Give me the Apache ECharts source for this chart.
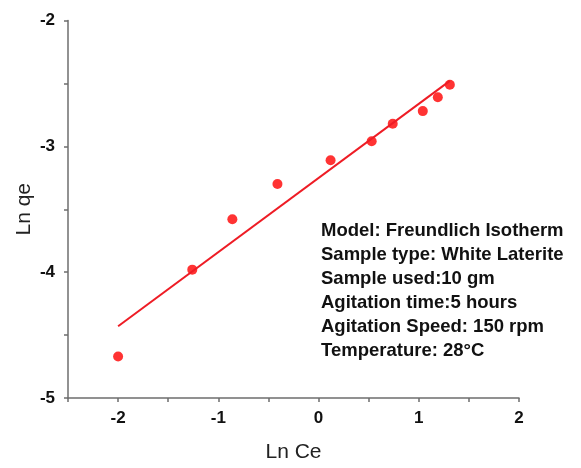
<!DOCTYPE html>
<html>
<head>
<meta charset="utf-8">
<script src="https://cdn.jsdelivr.net/npm/echarts@6/dist/echarts.min.js"></script>
<style>html,body{margin:0;padding:0;background:#fff;}#c{width:581px;height:468px;}</style>
</head>
<body>
<div id="c"></div>
<script>
const lnCe = [-2.00, -1.26, -0.86, -0.41, 0.12, 0.53, 0.74, 1.04, 1.19, 1.31];
const lnQe = [-4.67, -3.98, -3.58, -3.30, -3.11, -2.96, -2.82, -2.72, -2.61, -2.51];
const fitX = [-2.00, 1.31];
const fitY = [-4.43, -2.48];
const xTicks = [-2, -1, 0, 1, 2];
const yTicks = [-5, -4, -3, -2];
const infoLines = [
  'Model: Freundlich Isotherm',
  'Sample type: White Laterite',
  'Sample used:10 gm',
  'Agitation time:5 hours',
  'Agitation Speed: 150 rpm',
  'Temperature: 28\u00B0C'
];

const chart = echarts.init(document.getElementById('c'), null, {renderer: 'canvas'});
const axisCol = '#6e6e6e';
const font = 'Arial, "Liberation Sans", sans-serif';
chart.setOption({
  animation: false,
  backgroundColor: '#fff',
  grid: {left: 68, right: 62, top: 20.5, bottom: 69.5},
  xAxis: {
    type: 'value', min: -2.5, max: 2, interval: 0.5,
    name: 'Ln Ce', nameLocation: 'middle', nameGap: 44, nameMoveOverlap: false,
    nameTextStyle: {fontSize: 21, color: '#222', fontFamily: font},
    axisLine: {onZero: false, lineStyle: {color: axisCol, width: 1.5}},
    axisTick: {show: true, length: 4, lineStyle: {color: axisCol, width: 1.5},
      interval: 0},
    axisLabel: {margin: 12, fontSize: 17, fontWeight: 'bold', color: '#111', fontFamily: font,
      formatter: v => (xTicks.indexOf(v) >= 0 ? String(v) : '')},
    splitLine: {show: false}
  },
  yAxis: {
    type: 'value', min: -5, max: -2, interval: 0.5,
    name: 'Ln qe', nameLocation: 'middle', nameGap: 33, nameMoveOverlap: false,
    nameTextStyle: {fontSize: 21, color: '#222', fontFamily: font},
    axisLine: {onZero: false, lineStyle: {color: axisCol, width: 1.5}},
    axisTick: {show: true, length: 4, lineStyle: {color: axisCol, width: 1.5}},
    axisLabel: {margin: 13, fontSize: 17, fontWeight: 'bold', color: '#111', fontFamily: font,
      formatter: v => (yTicks.indexOf(v) >= 0 ? String(v) : '')},
    splitLine: {show: false}
  },
  graphic: [{
    type: 'text', left: 321, top: 219,
    style: {text: infoLines.join('\n'), font: 'bold 18.5px ' + font, fill: '#111', lineHeight: 24}
  }],
  series: [
    {
      type: 'line', data: fitX.map((x, i) => [x, fitY[i]]),
      showSymbol: false, symbol: 'none',
      lineStyle: {color: '#ee1c25', width: 2}
    },
    {
      type: 'scatter', data: lnCe.map((x, i) => [x, lnQe[i]]),
      symbol: 'circle', symbolSize: 10,
      itemStyle: {color: '#ff0000'}
    }
  ]
});
</script>
</body>
</html>
